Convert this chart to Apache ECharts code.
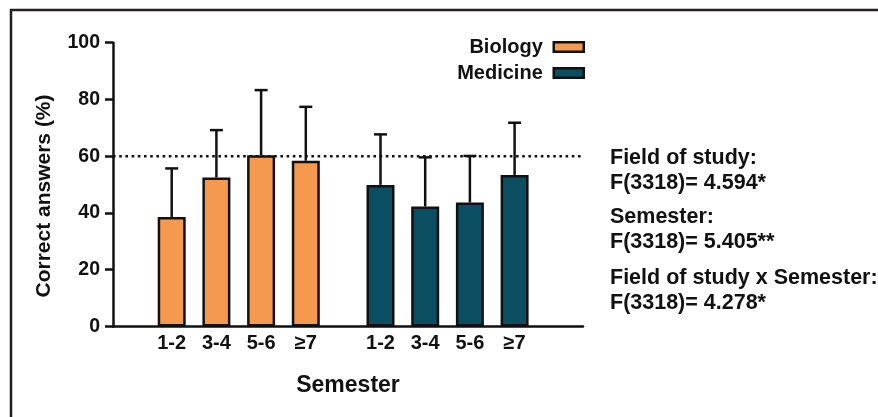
<!DOCTYPE html>
<html><head><meta charset="utf-8">
<script src="https://cdn.jsdelivr.net/npm/echarts@6/dist/echarts.min.js"></script>
<style>html,body{margin:0;padding:0;background:#fff}#c{width:878px;height:417px}</style>
</head><body><div id="c"></div>
<script>
// ---- data ----
const semesters = ['1-2', '3-4', '5-6', '≥7'];
const biologyMean = [38.6, 52.5, 60.3, 58.4];
const biologySD = [17.1, 16.7, 23.0, 19.0];
const medicineMean = [49.9, 42.3, 43.7, 53.4];
const medicineSD = [17.8, 17.3, 16.4, 18.4];
const yMin = 0, yMax = 100, yStep = 20;
const referenceLine = 60;
const seriesNames = ['Biology', 'Medicine'];
const statsLines = [
  'Field of study:', 'F(3318)= 4.594*',
  'Semester:', 'F(3318)= 5.405**',
  'Field of study x Semester:', 'F(3318)= 4.278*'
];

// ---- style ----
const FONT = '"Liberation Sans", Arial, sans-serif';
const INK = '#111';
const ORANGE = '#F5994E';
const TEAL = '#0B4E62';
const GT = 42.7, GH = 283.8;
const BAND = 44.7;

const chart = echarts.init(document.getElementById('c'), null, {renderer: 'canvas'});

function errRender(params, api) {
  const i = api.value(0), m = api.value(1), s = api.value(2);
  const b = api.coord([i, m]);
  const t = api.coord([i, m + s]);
  const h = 6.5;
  return {type: 'group', children: [
    {type: 'line', shape: {x1: b[0], y1: b[1], x2: t[0], y2: t[1]}, style: {stroke: INK, lineWidth: 2.5}},
    {type: 'line', shape: {x1: t[0] - h, y1: t[1], x2: t[0] + h, y2: t[1]}, style: {stroke: INK, lineWidth: 2.5}}
  ]};
}

const hiddenY = (g) => ({type: 'value', gridIndex: g, min: yMin, max: yMax, interval: yStep, show: false});
const catX = (g) => ({
  type: 'category', gridIndex: g, data: semesters, boundaryGap: true,
  axisLine: {show: false}, axisTick: {show: false}, splitLine: {show: false},
  axisLabel: {color: INK, fontFamily: FONT, fontWeight: 'bold', fontSize: 20, margin: 7}
});

const statsY = [158.3, 183.3, 217.3, 241.7, 278.3, 303.3];

const option = {
  animation: false,
  backgroundColor: '#fff',
  grid: [
    {left: 113, top: GT, width: 470, height: GH},
    {left: 171.7 - BAND / 2, top: GT, width: BAND * 4, height: GH},
    {left: 380.5 - BAND / 2, top: GT, width: BAND * 4, height: GH}
  ],
  xAxis: [
    {type: 'value', gridIndex: 0, min: 0, max: 1,
     axisLine: {show: true, lineStyle: {color: INK, width: 2.5}},
     axisTick: {show: false}, axisLabel: {show: false}, splitLine: {show: false},
     name: 'Semester', nameLocation: 'middle', nameGap: 48,
     nameTextStyle: {color: INK, fontFamily: FONT, fontWeight: 'bold', fontSize: 23}},
    catX(1), catX(2)
  ],
  yAxis: [
    {type: 'value', gridIndex: 0, min: yMin, max: yMax, interval: yStep,
     axisLine: {show: true, lineStyle: {color: INK, width: 2.5}},
     axisTick: {show: true, length: 8, lineStyle: {color: INK, width: 2.5}},
     axisLabel: {color: INK, fontFamily: FONT, fontWeight: 'bold', fontSize: 19.5, margin: 13},
     splitLine: {show: false}},
    hiddenY(1), hiddenY(2)
  ],
  legend: {
    data: seriesNames, orient: 'vertical', align: 'right',
    right: 288, top: 32, itemWidth: 30, itemHeight: 9.5, itemGap: 6,
    icon: 'rect',
    itemStyle: {borderColor: INK, borderWidth: 2.5},
    textStyle: {color: INK, fontFamily: FONT, fontWeight: 'bold', fontSize: 20, padding: [0, 6, 0, 0]}
  },
  series: [
    {type: 'line', xAxisIndex: 0, yAxisIndex: 0, data: [[0, referenceLine], [1, referenceLine]],
     symbol: 'none', silent: true, z: 1,
     lineStyle: {color: INK, width: 2.6, type: [2.6, 3.6]}},
    {type: 'custom', xAxisIndex: 1, yAxisIndex: 1, z: 1, renderItem: errRender,
     data: semesters.map((c, i) => [i, biologyMean[i], biologySD[i]])},
    {type: 'custom', xAxisIndex: 2, yAxisIndex: 2, z: 1, renderItem: errRender,
     data: semesters.map((c, i) => [i, medicineMean[i], medicineSD[i]])},
    {name: seriesNames[0], type: 'bar', xAxisIndex: 1, yAxisIndex: 1, data: biologyMean, barWidth: 28, z: 3,
     itemStyle: {color: ORANGE, borderColor: INK, borderWidth: 2.5}},
    {name: seriesNames[1], type: 'bar', xAxisIndex: 2, yAxisIndex: 2, data: medicineMean, barWidth: 28, z: 3,
     itemStyle: {color: TEAL, borderColor: INK, borderWidth: 2.5}}
  ],
  graphic: [
    {type: 'polyline', z: 10, silent: true, shape: {points: [[11, 417], [11, 10], [878, 10]]},
     style: {stroke: '#231f20', lineWidth: 2.5, fill: null}},
    {type: 'text', x: 44, y: 196, rotation: Math.PI / 2, silent: true,
     style: {text: 'Correct answers (%)', fill: INK, font: 'bold 21px ' + FONT, align: 'center', verticalAlign: 'middle'}}
  ].concat(statsLines.map((t, i) => ({
    type: 'text', x: 610, y: statsY[i], silent: true,
    style: {text: t, fill: INK, font: 'bold 21.5px ' + FONT, align: 'left', verticalAlign: 'middle'}
  })))
};
chart.setOption(option);
</script>
</body></html>
